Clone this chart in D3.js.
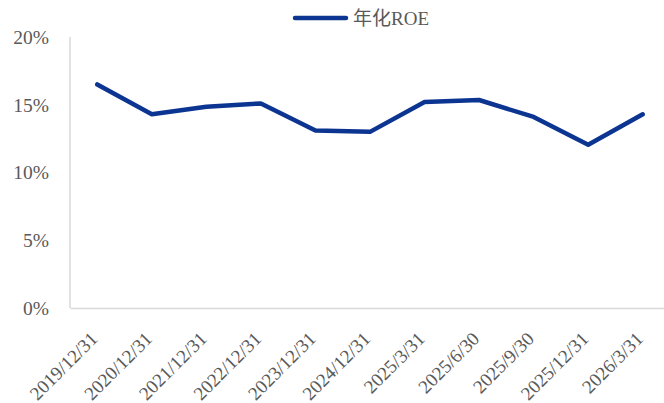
<!DOCTYPE html>
<html>
<head>
<meta charset="utf-8">
<script src="https://cdn.jsdelivr.net/npm/d3@7"></script>
<style>
  body { margin: 0; background: #fff; }
  text { font-family: "Liberation Serif", "Noto Sans CJK SC", serif; fill: #595959; }
</style>
</head>
<body>
<div id="chart"></div>
<script>
const dates = ["2019/12/31", "2020/12/31", "2021/12/31", "2022/12/31", "2023/12/31", "2024/12/31",
    "2025/3/31", "2025/6/30", "2025/9/30", "2025/12/31", "2026/3/31"];
const roe = [16.5, 14.3, 14.85, 15.1, 13.1, 13.0, 15.2, 15.35, 14.1, 12.05, 14.3];
const yTicks = [0, 5, 10, 15, 20];
const seriesName = "年化ROE";

const svgWidth = 664;
const svgHeight = 403;
const margin = { top: 37, right: -6, bottom: 95, left: 70 };
const width = svgWidth - margin.left - margin.right;
const height = svgHeight - margin.top - margin.bottom;

const svg = d3.select("#chart")
    .append("svg")
    .attr("width", svgWidth)
    .attr("height", svgHeight);

const chartGroup = svg.append("g")
    .attr("transform", `translate(${margin.left}, ${margin.top})`);

const xScale = d3.scalePoint()
    .domain(dates)
    .range([0, width])
    .padding(0.5);

const yScale = d3.scaleLinear()
    .domain([0, 20])
    .range([height, 0]);

// y axis: labels only, plus light vertical line
const leftAxis = d3.axisLeft(yScale)
    .tickValues(yTicks)
    .tickSize(0)
    .tickPadding(21)
    .tickFormat(d => d + "%");

const yAxis = chartGroup.append("g").call(leftAxis);
yAxis.select(".domain").remove();
yAxis.selectAll("text")
    .style("font-size", "19.5px")
    .attr("fill", "#595959");

chartGroup.append("line")
    .attr("x1", 0).attr("x2", 0)
    .attr("y1", 0).attr("y2", height)
    .attr("stroke", "#d9d9d9")
    .attr("stroke-width", 1.5);

// x axis
const bottomAxis = d3.axisBottom(xScale).tickSize(0);
const xAxis = chartGroup.append("g")
    .attr("transform", `translate(0, ${height})`)
    .call(bottomAxis);
xAxis.select(".domain")
    .attr("stroke", "#d9d9d9")
    .attr("stroke-width", 1.5);
xAxis.selectAll("text")
    .style("font-size", "19px")
    .attr("fill", "#595959")
    .attr("text-anchor", "end")
    .attr("dy", null)
    .attr("y", 0)
    .attr("transform", "translate(1, 32) rotate(-45)");

// line
const line = d3.line()
    .x((d, i) => xScale(dates[i]))
    .y(d => yScale(d));

chartGroup.append("path")
    .datum(roe)
    .attr("fill", "none")
    .attr("stroke", "#0c3591")
    .attr("stroke-width", 4.5)
    .attr("stroke-linejoin", "round")
    .attr("stroke-linecap", "round")
    .attr("d", line);

// legend
const legend = svg.append("g").attr("transform", "translate(295, 18)");
legend.append("line")
    .attr("x1", 0).attr("x2", 51)
    .attr("stroke", "#0c3591")
    .attr("stroke-width", 4.5)
    .attr("stroke-linecap", "round");
legend.append("text")
    .attr("x", 58)
    .attr("y", 7)
    .style("font-size", "19px")
    .text(seriesName);
</script>
</body>
</html>
